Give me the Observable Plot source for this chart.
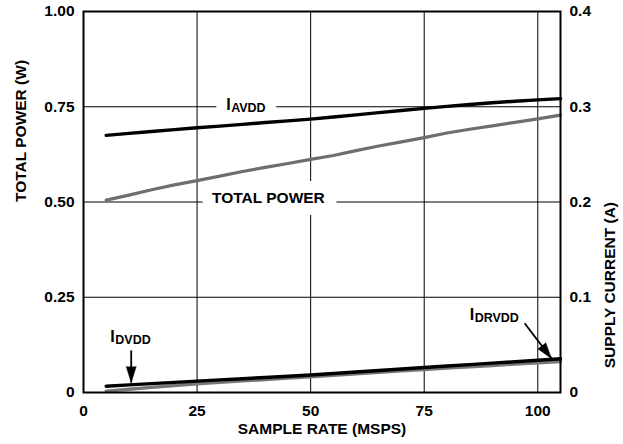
<!DOCTYPE html>
<html>
<head>
<meta charset="utf-8">
<script src="https://cdn.jsdelivr.net/npm/d3@7"></script>
<script src="https://cdn.jsdelivr.net/npm/@observablehq/plot@0.6"></script>
<style>
  body { margin: 0; background: #fff; }
</style>
</head>
<body>
<div id="chart"></div>
<script>
// ---- data ----
const sampleRate = [5, 10, 15, 20, 25, 30, 35, 40, 45, 50, 55, 60, 65, 70, 75, 80, 85, 90, 95, 100, 105];
// Total power (W), left axis
const totalPower = [0.505, 0.518, 0.532, 0.545, 0.556, 0.568, 0.580, 0.591, 0.601, 0.612, 0.622, 0.635, 0.647, 0.658, 0.669, 0.681, 0.691, 0.700, 0.709, 0.718, 0.728];
// Supply currents (A), right axis
const iAVDD = [0.270, 0.272, 0.274, 0.276, 0.278, 0.2797, 0.2815, 0.2834, 0.2852, 0.287, 0.2892, 0.2915, 0.2938, 0.296, 0.2983, 0.3004, 0.3024, 0.3042, 0.3058, 0.3072, 0.3085];
const iDVDD = [0.0066, 0.0080, 0.0093, 0.0106, 0.0119, 0.0132, 0.0145, 0.0158, 0.0171, 0.0184, 0.0200, 0.0215, 0.0231, 0.0247, 0.0263, 0.0278, 0.0293, 0.0308, 0.0323, 0.0339, 0.0354];
const iDRVDD = [0.0014, 0.0034, 0.0054, 0.0073, 0.0092, 0.0107, 0.0122, 0.0136, 0.0151, 0.0166, 0.0181, 0.0196, 0.0212, 0.0227, 0.0242, 0.0256, 0.0270, 0.0284, 0.0298, 0.0312, 0.0326];

const xTicks = [0, 25, 50, 75, 100];
const xTickLabels = ["0", "25", "50", "75", "100"];
const leftTicks = [0, 0.25, 0.5, 0.75, 1.0];
const leftTickLabels = ["0", "0.25", "0.50", "0.75", "1.00"];
const rightTicks = [0, 0.1, 0.2, 0.3, 0.4];
const rightTickLabels = ["0", "0.1", "0.2", "0.3", "0.4"];
const gridX = [25, 50, 75, 100];
const gridY = [0.25, 0.5, 0.75];

const xTitle = "SAMPLE RATE (MSPS)";
const yLeftTitle = "TOTAL POWER (W)";
const yRightTitle = "SUPPLY CURRENT (A)";

// annotation labels (data units: MSPS, W)
const labelMain = ["I", "I", "I"];
const labelSub = ["AVDD", "DVDD", "DRVDD"];
const labelX = [31.4, 5.9, 85.0];
const labelY = [0.755, 0.146, 0.2026];
const labelHalo = [true, false, false];
const powerLabel = ["TOTAL POWER"];
const powerLabelX = [40.7];
const powerLabelY = [0.511];
// arrows (data units)
const arrowX1 = [10.5, 97.1];
const arrowY1 = [0.1105, 0.1816];
const arrowX2 = [10.5, 103.0];
const arrowY2 = [0.026, 0.0895];

// ---- build ----
const W = 623, H = 444;
const mL = 83, mR = 63, mT = 11, mB = 52;
const xDomain = [0, 105], yDomain = [0, 1];
const A2W = 2.5; // right axis (A) to left axis (W)

const rows = [];
sampleRate.forEach((s, i) => {
  rows.push({s, v: totalPower[i], k: "total"});
  rows.push({s, v: iAVDD[i] * A2W, k: "avdd"});
  rows.push({s, v: iDVDD[i] * A2W, k: "dvdd"});
  rows.push({s, v: iDRVDD[i] * A2W, k: "drvdd"});
});
const labels = labelMain.map((t, i) => ({t, sub: labelSub[i], x: labelX[i], y: labelY[i], halo: labelHalo[i]}));
const haloLabels = labels.filter(d => d.halo);
const pLabels = powerLabel.map((t, i) => ({t, x: powerLabelX[i], y: powerLabelY[i]}));

const xs = d3.scaleLinear(xDomain, [mL, W - mR]);
const ys = d3.scaleLinear(yDomain, [H - mB, mT]);
const arrows = arrowX1.map((x1, i) => {
  const dx = xs(arrowX2[i]) - xs(x1), dy = ys(arrowY2[i]) - ys(arrowY1[i]);
  return {x1, y1: arrowY1[i], x2: arrowX2[i], y2: arrowY2[i], angle: Math.atan2(dx, -dy) * 180 / Math.PI};
});

const font = "'Liberation Sans', Arial, Helvetica, sans-serif";
const halo = {fill: "#fff", stroke: "#fff", strokeLinejoin: "round"};

const chart = Plot.plot({
  width: W, height: H,
  marginLeft: mL, marginRight: mR, marginTop: mT, marginBottom: mB,
  x: {domain: xDomain},
  y: {domain: yDomain},
  style: {fontFamily: font, fontWeight: "bold", fontSize: "15.5px", background: "#fff", color: "#000"},
  marks: [
    Plot.ruleX(gridX, {stroke: "#000", strokeWidth: 1}),
    Plot.ruleY(gridY, {stroke: "#000", strokeWidth: 1}),
    // white halos (gaps in grid) under labels
    Plot.text(haloLabels, {x: "x", y: "y", text: "t", textAnchor: "start", fontSize: 16, strokeWidth: 22, ...halo}),
    Plot.text(haloLabels, {x: "x", y: "y", text: "sub", textAnchor: "start", dx: 5, dy: 3, fontSize: 12.5, strokeWidth: 22, ...halo}),
    Plot.text(pLabels, {x: "x", y: "y", text: "t", textAnchor: "middle", fontSize: 15.5, strokeWidth: 24, ...halo}),
    // labels
    Plot.text(labels, {x: "x", y: "y", text: "t", textAnchor: "start", fontSize: 16, fill: "#000"}),
    Plot.text(labels, {x: "x", y: "y", text: "sub", textAnchor: "start", dx: 5, dy: 3, fontSize: 12.5, fill: "#000"}),
    Plot.text(pLabels, {x: "x", y: "y", text: "t", textAnchor: "middle", fontSize: 15.5, fill: "#000"}),
    // series
    Plot.line(rows.filter(d => d.k === "total"), {x: "s", y: "v", stroke: "#6e6e6e", strokeWidth: 3.2}),
    Plot.line(rows.filter(d => d.k === "avdd"), {x: "s", y: "v", stroke: "#000", strokeWidth: 3.4}),
    Plot.line(rows.filter(d => d.k === "drvdd"), {x: "s", y: "v", stroke: "#777", strokeWidth: 3.4}),
    Plot.line(rows.filter(d => d.k === "dvdd"), {x: "s", y: "v", stroke: "#000", strokeWidth: 3.4}),
    // arrows
    Plot.link(arrows, {x1: "x1", y1: "y1", x2: "x2", y2: "y2", stroke: "#000", strokeWidth: 1.8}),
    Plot.vector(arrows, {x: "x2", y: "y2", rotate: "angle", length: 16, r: 5, anchor: "end", shape: "spike", fill: "#000", stroke: "#000", strokeWidth: 0.5}),
    Plot.frame({stroke: "#000", strokeWidth: 2}),
    Plot.axisX({ticks: xTicks, tickSize: 0, tickPadding: 12, tickFormat: d => xTickLabels[xTicks.indexOf(d)], label: null}),
    Plot.axisY({anchor: "left", ticks: leftTicks, tickSize: 0, tickPadding: 9, tickFormat: d => leftTickLabels[leftTicks.findIndex(v => Math.abs(v - d) < 1e-9)], label: null}),
    Plot.axisY({anchor: "right", ticks: rightTicks.map(a => a * A2W), tickSize: 0, tickPadding: 9, tickFormat: d => rightTickLabels[rightTicks.findIndex(v => Math.abs(v * A2W - d) < 1e-9)], label: null}),
    // titles
    Plot.text([xTitle], {frameAnchor: "bottom", text: d => d, dy: 41, fontSize: 15.5, fill: "#000"}),
    Plot.text([yLeftTitle], {frameAnchor: "left", text: d => d, dx: -62, rotate: -90, fontSize: 15.5, fill: "#000"}),
    Plot.text([yRightTitle], {frameAnchor: "right", text: d => d, dx: 50, rotate: -90, fontSize: 15.5, fill: "#000"})
  ]
});
document.getElementById("chart").appendChild(chart);
</script>
</body>
</html>
